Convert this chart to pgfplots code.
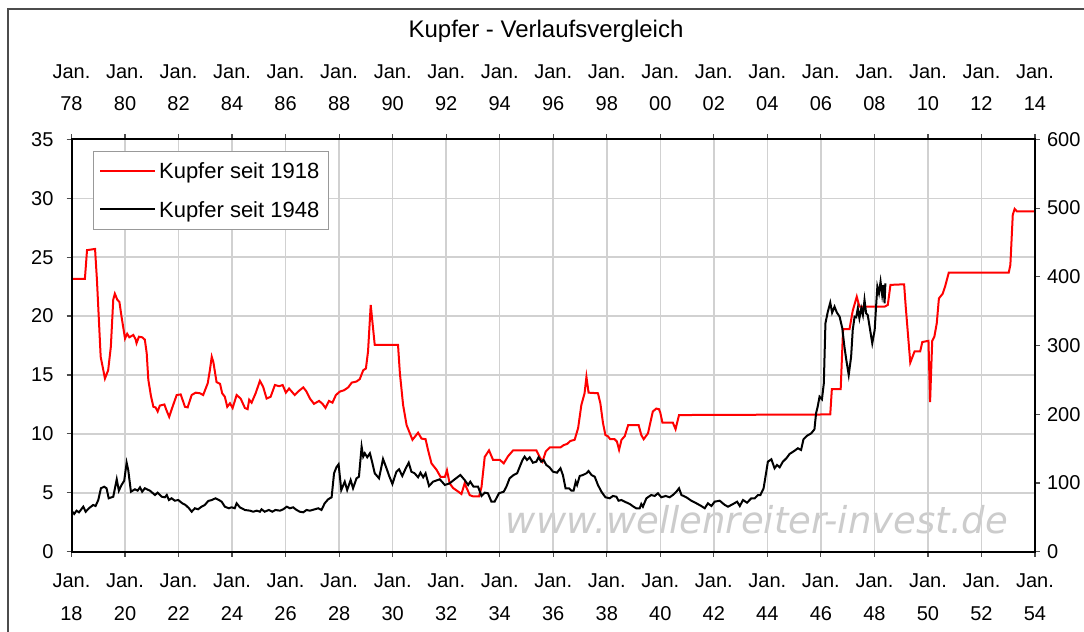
\documentclass[border=0pt]{standalone}
\usepackage{fontspec}
\setmainfont{Liberation Sans}
\newfontfamily\wmfont{DejaVu Sans}
\usepackage{pgfplots}
\pgfplotsset{compat=1.18}
\begin{document}
\begin{tikzpicture}[x=0.5pt,y=0.5pt]
\useasboundingbox (0,0) rectangle (1084,632);
\draw[black!70, line width=0.75pt] (8,-5) -- (8,623) -- (1090,623);
\node[font=\fontsize{12}{14}\selectfont] at (546,601) {Kupfer - Verlaufsvergleich};
\node[font=\wmfont\itshape\fontsize{18.5}{20}\selectfont, text=black!20] at (757,112) {www.wellenreiter-invest.de};
\begin{axis}[
  at={(35.75pt,40.15pt)}, anchor=south west, scale only axis,
  width=481.75pt, height=206.15pt,
  xmin=1918, xmax=1954, ymin=0, ymax=35,
  xtick={1918,1920,...,1954}, ytick={0,5,...,35},
  xtick pos=left, ytick pos=left,
  xticklabels={{Jan.\\18},{Jan.\\20},{Jan.\\22},{Jan.\\24},{Jan.\\26},{Jan.\\28},{Jan.\\30},{Jan.\\32},{Jan.\\34},{Jan.\\36},{Jan.\\38},{Jan.\\40},{Jan.\\42},{Jan.\\44},{Jan.\\46},{Jan.\\48},{Jan.\\50},{Jan.\\52},{Jan.\\54}},
  tick align=outside, major tick length=2.5pt,
  tick style={black!70, line width=0.6pt},
  grid=major, major grid style={draw=black!18, line width=0.75pt},
  axis line style={line width=1pt},
  xticklabel style={align=center, font=\fontsize{10}{16.5}\selectfont, yshift=-5pt},
  yticklabel style={font=\fontsize{10}{12}\selectfont, xshift=-3pt},
  /pgf/number format/assume math mode=true,
]
\addplot[red, line width=1pt] table {
1918.00 23.15
1918.50 23.15
1918.58 25.6
1918.88 25.7
1918.95 23.1
1919.09 16.55
1919.25 14.7
1919.37 15.4
1919.47 17.4
1919.56 21.4
1919.62 21.9
1919.71 21.4
1919.79 21.2
1919.87 19.95
1920.00 18.1
1920.08 18.5
1920.16 18.2
1920.31 18.4
1920.40 18.0
1920.43 17.7
1920.52 18.25
1920.64 18.2
1920.74 18.0
1920.81 16.85
1920.87 14.6
1920.97 13.2
1921.06 12.3
1921.14 12.25
1921.22 11.9
1921.30 12.4
1921.47 12.5
1921.55 12.0
1921.65 11.45
1921.76 12.2
1921.93 13.3
1922.08 13.35
1922.24 12.3
1922.34 12.25
1922.49 13.3
1922.64 13.5
1922.80 13.45
1922.92 13.3
1923.09 14.3
1923.17 15.4
1923.24 16.55
1923.30 16.1
1923.42 14.4
1923.55 14.25
1923.63 13.45
1923.73 13.15
1923.82 12.3
1923.92 12.6
1924.02 12.2
1924.17 13.3
1924.32 13.0
1924.48 12.2
1924.58 12.1
1924.64 12.9
1924.73 12.65
1924.88 13.45
1925.04 14.5
1925.16 14.0
1925.29 13.0
1925.44 13.15
1925.60 14.15
1925.76 14.05
1925.89 14.15
1926.01 13.5
1926.13 13.85
1926.34 13.3
1926.47 13.6
1926.66 13.95
1926.78 13.6
1926.91 13.0
1927.06 12.55
1927.25 12.8
1927.38 12.55
1927.49 12.2
1927.62 12.8
1927.75 12.65
1927.88 13.3
1928.03 13.6
1928.18 13.7
1928.34 13.95
1928.47 14.35
1928.65 14.45
1928.77 14.65
1928.90 15.4
1929.00 15.55
1929.08 17.0
1929.18 20.95
1929.33 17.55
1930.20 17.55
1930.27 15.15
1930.39 12.45
1930.52 10.75
1930.74 9.5
1930.95 10.1
1931.08 9.6
1931.23 9.55
1931.32 8.65
1931.45 7.5
1931.64 6.95
1931.79 6.35
1931.95 6.35
1932.03 6.9
1932.13 5.8
1932.26 5.4
1932.45 5.1
1932.57 4.9
1932.69 5.8
1932.88 4.8
1933.00 4.7
1933.23 4.7
1933.32 5.5
1933.44 8.05
1933.60 8.6
1933.75 7.8
1934.00 7.8
1934.15 7.5
1934.31 8.1
1934.50 8.6
1935.37 8.6
1935.49 8.05
1935.60 7.65
1935.72 8.5
1935.87 8.85
1936.27 8.85
1936.39 9.05
1936.52 9.15
1936.64 9.4
1936.80 9.5
1936.93 10.5
1937.05 12.45
1937.17 13.45
1937.24 14.85
1937.32 13.5
1937.67 13.45
1937.76 12.6
1937.86 10.9
1937.95 9.9
1938.04 9.8
1938.13 9.55
1938.29 9.55
1938.38 9.35
1938.46 8.65
1938.55 9.5
1938.67 9.8
1938.80 10.75
1939.19 10.75
1939.29 9.9
1939.38 9.55
1939.54 10.05
1939.72 11.9
1939.85 12.15
1939.95 12.1
1940.00 11.8
1940.08 10.95
1940.47 10.95
1940.57 10.4
1940.70 11.6
1946.35 11.65
1946.41 13.8
1946.74 13.8
1946.83 18.9
1947.07 18.9
1947.19 20.45
1947.34 21.65
1947.44 20.8
1948.38 20.8
1948.50 20.95
1948.60 22.65
1949.11 22.7
1949.17 20.8
1949.34 16.05
1949.50 17.0
1949.71 17.0
1949.79 17.8
1950.02 17.9
1950.08 12.7
1950.16 17.9
1950.24 18.25
1950.33 19.4
1950.41 21.5
1950.55 21.9
1950.64 22.5
1950.78 23.7
1953.02 23.7
1953.08 24.35
1953.17 28.6
1953.24 29.1
1953.32 28.9
1954.00 28.9
};
\end{axis}
\begin{axis}[
  at={(35.75pt,40.15pt)}, anchor=south west, scale only axis,
  width=481.75pt, height=206.15pt,
  xmin=1918, xmax=1954, ymin=0, ymax=600,
  xtick={1918,1920,...,1954}, ytick={0,100,...,600},
  xtick pos=right, ytick pos=right,
  xticklabels={{Jan.\\78},{Jan.\\80},{Jan.\\82},{Jan.\\84},{Jan.\\86},{Jan.\\88},{Jan.\\90},{Jan.\\92},{Jan.\\94},{Jan.\\96},{Jan.\\98},{Jan.\\00},{Jan.\\02},{Jan.\\04},{Jan.\\06},{Jan.\\08},{Jan.\\10},{Jan.\\12},{Jan.\\14}},
  tick align=outside, major tick length=2.5pt,
  tick style={black!70, line width=0.6pt},
  axis line style={line width=1pt},
  xticklabel style={align=center, font=\fontsize{10}{16}\selectfont, yshift=8.5pt},
  yticklabel style={font=\fontsize{10}{12}\selectfont},
  /pgf/number format/assume math mode=true,
  legend cell align=left,
  legend image code/.code={\draw[#1] (0pt,0pt) -- (27.5pt,0pt);},
  legend style={at={(0.022,0.9726)}, anchor=north west, draw=black!40, fill=white,
    font=\fontsize{11}{12}\selectfont, inner xsep=3pt, inner ysep=4.4pt, row sep=8.4pt,
    nodes={inner sep=1.5pt, text height=7.9pt, text depth=0pt}},
]
\addlegendimage{red, line width=1pt}
\addlegendentry{Kupfer seit 1918}
\addplot[black, line width=1pt] table {
1918.00 59.7
1918.10 54.9
1918.19 59.7
1918.28 57.3
1918.44 65.5
1918.53 58.2
1918.65 63.2
1918.81 68.0
1918.90 66.5
1919.00 75.2
1919.10 92.3
1919.22 94.6
1919.31 92.3
1919.39 77.7
1919.56 80.0
1919.69 105.4
1919.77 88.8
1919.87 97.1
1919.97 103.3
1920.06 129.5
1920.12 118.9
1920.22 87.3
1920.37 90.8
1920.47 88.8
1920.56 93.7
1920.64 87.3
1920.74 92.3
1920.93 88.8
1921.12 82.5
1921.22 85.9
1921.37 80.0
1921.49 79.2
1921.56 82.5
1921.64 75.2
1921.74 77.7
1921.86 74.2
1921.99 75.2
1922.14 70.4
1922.26 68.0
1922.39 63.2
1922.49 58.2
1922.61 63.2
1922.73 61.7
1922.86 65.5
1922.98 68.0
1923.11 73.8
1923.24 75.2
1923.38 77.7
1923.51 75.2
1923.61 72.8
1923.73 65.5
1923.88 63.2
1923.98 64.6
1924.10 63.2
1924.17 70.4
1924.29 64.6
1924.48 60.7
1924.67 59.7
1924.79 58.2
1924.92 59.7
1925.04 58.2
1925.10 61.7
1925.22 58.2
1925.37 60.7
1925.50 58.2
1925.62 60.7
1925.79 59.7
1925.91 61.7
1926.04 65.5
1926.16 63.2
1926.28 64.6
1926.41 60.7
1926.53 58.2
1926.66 57.3
1926.78 60.7
1926.91 59.7
1927.09 61.7
1927.22 63.2
1927.34 60.7
1927.46 70.4
1927.59 76.3
1927.72 79.2
1927.76 95.0
1927.81 114.1
1927.90 123.0
1927.98 127.2
1928.08 89.8
1928.21 101.9
1928.30 89.8
1928.43 104.3
1928.52 92.3
1928.65 106.8
1928.74 109.1
1928.84 152.8
1928.90 138.3
1928.96 143.2
1929.05 137.4
1929.15 143.2
1929.23 131.0
1929.33 114.1
1929.49 106.8
1929.64 134.9
1929.77 121.4
1929.87 110.2
1929.99 98.5
1930.14 116.4
1930.24 119.9
1930.36 110.2
1930.49 121.4
1930.60 129.5
1930.70 116.4
1930.82 114.1
1930.95 108.3
1931.04 115.0
1931.14 108.3
1931.23 114.1
1931.36 95.6
1931.51 101.9
1931.76 105.4
1931.95 97.1
1932.13 99.5
1932.32 105.4
1932.53 111.6
1932.69 104.3
1932.82 97.1
1932.90 101.9
1933.02 94.6
1933.19 94.6
1933.32 81.1
1933.44 85.9
1933.56 85.0
1933.69 72.8
1933.81 72.8
1933.97 85.0
1934.15 87.3
1934.25 94.6
1934.37 106.8
1934.52 111.6
1934.65 114.1
1934.75 123.7
1934.85 133.4
1934.93 138.3
1935.02 133.4
1935.12 137.4
1935.24 129.5
1935.37 131.0
1935.45 137.4
1935.55 131.0
1935.64 133.4
1935.74 126.2
1935.86 122.8
1935.99 116.4
1936.14 115.0
1936.27 121.4
1936.36 111.6
1936.46 92.3
1936.59 92.3
1936.68 88.8
1936.76 88.8
1936.84 101.9
1936.89 97.1
1936.99 110.2
1937.11 111.6
1937.24 114.1
1937.32 117.4
1937.43 111.6
1937.55 109.1
1937.67 97.1
1937.80 87.3
1937.95 79.2
1938.11 77.7
1938.23 81.1
1938.36 80.0
1938.44 74.2
1938.55 75.2
1938.67 72.8
1938.86 69.4
1939.00 65.5
1939.10 63.2
1939.23 63.2
1939.29 69.4
1939.35 65.5
1939.48 77.7
1939.66 82.5
1939.79 81.1
1939.91 85.0
1940.04 79.2
1940.20 81.1
1940.35 79.2
1940.47 82.5
1940.60 87.3
1940.70 92.3
1940.79 82.5
1940.97 79.2
1941.16 74.2
1941.35 70.4
1941.53 66.5
1941.66 63.2
1941.78 70.4
1941.91 66.5
1942.03 72.8
1942.22 74.2
1942.41 68.0
1942.53 65.5
1942.72 69.4
1942.87 72.8
1942.97 66.5
1943.09 75.2
1943.24 71.3
1943.40 77.7
1943.53 77.7
1943.65 82.5
1943.74 82.5
1943.86 92.3
1943.96 116.4
1944.02 131.0
1944.15 134.5
1944.27 121.4
1944.36 126.2
1944.46 122.8
1944.58 131.0
1944.71 135.9
1944.83 142.2
1945.02 147.0
1945.14 150.5
1945.26 148.0
1945.35 163.6
1945.47 168.4
1945.64 172.3
1945.76 178.1
1945.82 201.4
1945.88 211.0
1945.95 225.6
1946.04 221.8
1946.11 245.1
1946.17 332.4
1946.26 349.3
1946.35 362.4
1946.42 347.8
1946.51 356.6
1946.60 347.8
1946.70 342.0
1946.80 325.1
1946.88 298.3
1946.95 279.0
1947.04 257.2
1947.13 283.8
1947.19 322.6
1947.26 342.0
1947.32 341.1
1947.38 354.2
1947.44 339.7
1947.51 354.2
1947.57 344.5
1947.63 366.3
1947.69 346.9
1947.75 344.5
1947.82 327.5
1947.92 303.3
1948.01 322.6
1948.07 361.5
1948.11 385.7
1948.17 376.1
1948.23 393.0
1948.29 373.6
1948.34 388.1
1948.38 361.5
1948.41 390.6
};
\addlegendentry{Kupfer seit 1948}
\end{axis}
\end{tikzpicture}
\end{document}
